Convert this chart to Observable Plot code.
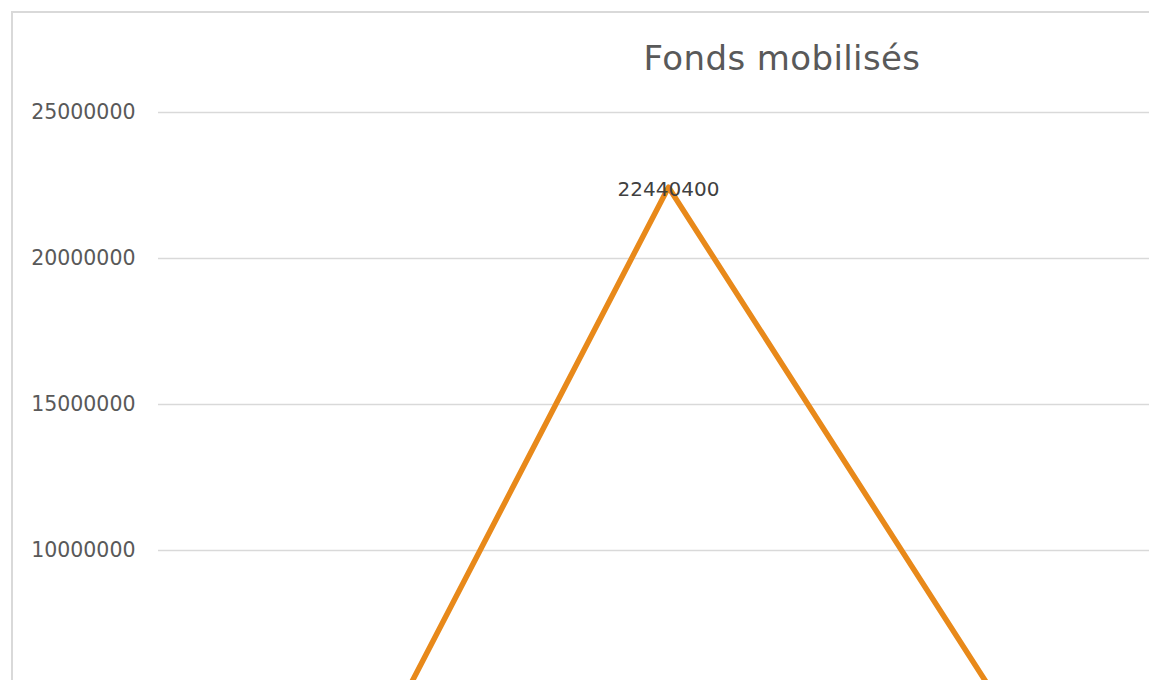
<!DOCTYPE html>
<html>
<head>
<meta charset="utf-8">
<script src="https://cdn.jsdelivr.net/npm/d3@7"></script>
<script src="https://cdn.jsdelivr.net/npm/@observablehq/plot@0.6"></script>
<style>
  html, body { margin: 0; padding: 0; background: #fff; overflow: hidden; width: 1149px; height: 680px; }
  #frame { position: absolute; left: 11px; top: 11px; width: 1540px; height: 920px; border: 2px solid #d9d9d9; box-sizing: border-box; }
  #title { position: absolute; left: 0; width: 1564px; top: 38px; text-align: center; font-family: "DejaVu Sans", sans-serif; font-size: 34px; color: #595959; letter-spacing: 0.4px; }
  #chart { position: absolute; left: 0; top: 0; width: 1560px; height: 680px; overflow: hidden; }
  #chart svg { max-width: none !important; }
</style>
</head>
<body>
<div id="frame"></div>
<div id="title">Fonds mobilisés</div>
<div id="chart"></div>
<script>
const categories = ["2019", "2020", "2021", "2022"];
const values = [0, 22440400, 4300000, 3000000];
const yTicks = [10000000, 15000000, 20000000, 25000000];

const data = categories.map((c, i) => ({cat: c, value: values[i]}));

const chart = Plot.plot({
  width: 1560,
  height: 680,
  marginTop: 112,
  marginBottom: 0,
  marginLeft: 158,
  marginRight: 42,
  style: {fontFamily: "DejaVu Sans, sans-serif", background: "transparent", maxWidth: "none"},
  x: {type: "point", domain: categories, padding: 0.5, label: null, axis: null},
  y: {domain: [0, 25000000], range: [842, 112], label: null, axis: null},
  marks: [
    Plot.gridY(yTicks, {stroke: "#d9d9d9", strokeOpacity: 1, strokeWidth: 1.5}),
    Plot.axisY(yTicks, {tickSize: 0, tickPadding: 23, fontSize: 20.5, fill: "#595959", tickFormat: d => String(d), label: null}),
    Plot.line(data, {x: "cat", y: "value", stroke: "#E8891A", strokeWidth: 5.5, strokeLinejoin: "round"}),
    Plot.text(data, {filter: d => d.value > 6000000, x: "cat", y: "value", text: d => String(d.value), fontSize: 20, fill: "#404040", dy: 2, textAnchor: "middle"})
  ]
});
document.getElementById("chart").appendChild(chart);
</script>
</body>
</html>
